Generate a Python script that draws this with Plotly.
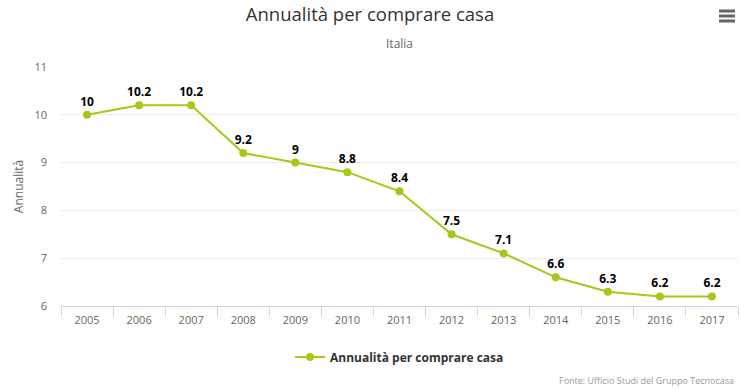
import plotly.graph_objects as go

years = ["2005", "2006", "2007", "2008", "2009", "2010", "2011", "2012", "2013", "2014", "2015", "2016", "2017"]
values = [10, 10.2, 10.2, 9.2, 9, 8.8, 8.4, 7.5, 7.1, 6.6, 6.3, 6.2, 6.2]
series_name = "Annualità per comprare casa"

color = "#a4c91a"
font = "Open Sans"

W, H = 740, 389
ML, MR, MT, MB = 61, 2, 67, 83
PW, PH = W - ML - MR, H - MT - MB

def px(x):
    return (x - ML) / PW

def py(y):
    return (H - MB - y) / PH

fig = go.Figure()
fig.add_trace(go.Scatter(
    x=years, y=values, name=series_name,
    mode="lines+markers+text",
    line=dict(color=color, width=2),
    marker=dict(color=color, size=8),
    text=[f"{v:g}" for v in values],
    textposition="top center",
    textfont=dict(family=font, size=12, color="#000000", weight="bold"),
    cliponaxis=False,
))

shapes = []
for yy in (11, 16, 21):
    shapes.append(dict(type="line", xref="paper", yref="paper",
                       x0=px(719), x1=px(735), y0=py(yy), y1=py(yy),
                       line=dict(color="#666666", width=3)))

fig.update_layout(
    width=W, height=H,
    margin=dict(l=ML, r=MR, t=MT, b=MB, autoexpand=False),
    paper_bgcolor="white", plot_bgcolor="white",
    font=dict(family=font, color="#666666"),
    title=dict(text="Annualità per comprare casa", x=0.5, xanchor="center",
               y=1 - 15 / H, yanchor="middle", font=dict(size=18.5, color="#333333", family=font)),
    showlegend=True,
    legend=dict(orientation="h", x=0.5, xanchor="center", y=py(357), yanchor="middle",
                font=dict(size=12, color="#333333", family=font, weight="bold")),
    xaxis=dict(type="category", showgrid=False, showline=True, linecolor="#ccd6eb",
               ticks="outside", tickson="boundaries", tickcolor="#ccd6eb", ticklen=10,
               ticklabelstandoff=4,
               tickfont=dict(size=11, color="#666666"), range=[-0.5, 12.5], automargin=False),
    yaxis=dict(range=[6, 11], dtick=1, showgrid=True, gridcolor="#ececec", zeroline=False,
               tickfont=dict(size=11, color="#666666"), automargin=False,
               ticklabelstandoff=13,
               title=dict(text="Annualità", font=dict(size=12, color="#666666"), standoff=8)),
    shapes=shapes,
    annotations=[
        dict(text="Italia", x=0.5, xref="paper", y=py(44), yref="paper", showarrow=False,
             yanchor="middle", font=dict(size=12, color="#666666")),
        dict(text="Fonte: Ufficio Studi del Gruppo Tecnocasa", xref="paper", yref="paper",
             x=px(736), y=py(380), showarrow=False, xanchor="right", yanchor="middle",
             font=dict(size=9, color="#999999")),
    ],
)

fig.write_html("out.html", config={"displayModeBar": False},
               post_script="document.body.style.margin='0';document.body.style.padding='0';")
